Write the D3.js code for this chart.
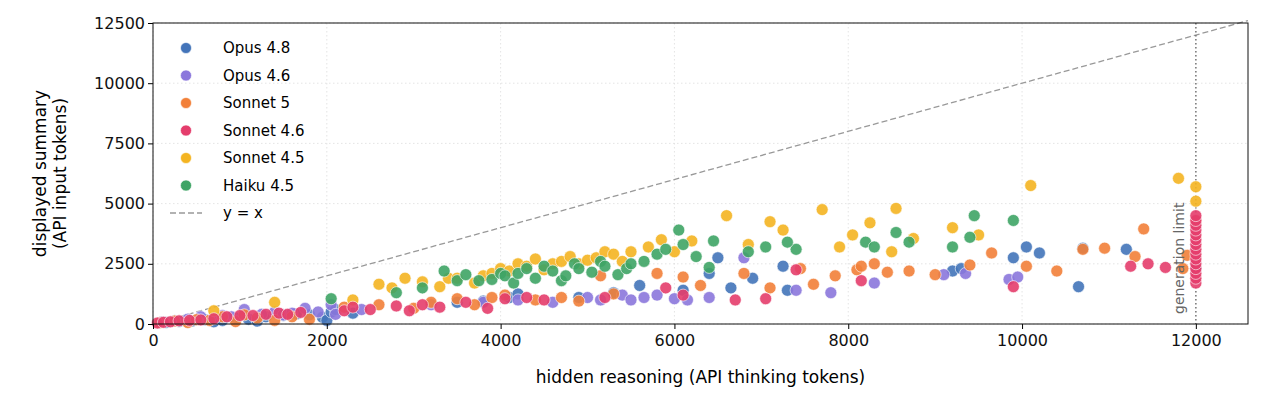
<!DOCTYPE html>
<html><head><meta charset="utf-8">
<script src="https://cdn.jsdelivr.net/npm/d3@7"></script>
<style>body{margin:0;background:#fff}text{font-family:"DejaVu Sans",sans-serif}</style>
</head><body><svg id="c" width="1265" height="403"></svg>
<script>
const seriesNames = ["Opus 4.8","Opus 4.6","Sonnet 5","Sonnet 4.6","Sonnet 4.5","Haiku 4.5"];
const seriesColors = ["#4374b9","#8b77dc","#f28039","#e43d6c","#f4b421","#3ea465"];
const xTicks = [0,2000,4000,6000,8000,10000,12000];
const yTicks = [0,2500,5000,7500,10000,12500];

const opus48 = [[150,60],[300,100],[450,120],[600,180],[700,90],[800,150],[950,250],[1100,200],[1200,120],[1300,300],[1500,350],[1650,420],[1800,380],[1950,280],[2000,150],[2050,500],[2100,600],[2300,450],[3500,900],[3800,950],[4100,1100],[4200,1250],[4900,1100],[5300,1300],[5600,1600],[6100,1400],[6400,2100],[6500,2750],[6650,1500],[6900,1900],[7250,2400],[7300,1400],[9200,2200],[9300,2300],[9900,2750],[10050,3200],[10200,2950],[10650,1550],[10700,3150],[11200,3100],[12000,2300]];
const opus46 = [[100,80],[250,130],[400,200],[550,300],[700,250],[800,350],[900,300],[1050,600],[1250,400],[1400,500],[1500,380],[1600,450],[1750,650],[1900,500],[2050,800],[2100,400],[2400,600],[3200,800],[3800,900],[4200,1000],[4600,900],[5000,1100],[5150,1000],[5400,1200],[5500,1000],[5650,1100],[5800,1200],[6000,1050],[6150,1000],[6400,1100],[6800,2750],[7400,1400],[7800,1300],[8300,1700],[9100,2050],[9350,2100],[9850,1850],[9950,1950]];
const sonnet5 = [[80,50],[250,120],[400,60],[500,180],[650,150],[800,300],[950,100],[1050,380],[1200,250],[1400,150],[1600,300],[1800,200],[2200,700],[2600,800],[3000,650],[3200,900],[3500,1050],[3700,800],[3900,1100],[4050,1200],[4400,1000],[4700,1100],[4900,950],[5150,2000],[5300,1250],[5800,2100],[6100,1950],[6300,1600],[6800,2100],[7100,1500],[7450,2300],[7600,1650],[7850,2000],[8100,2250],[8150,2400],[8300,2500],[8450,2150],[8700,2200],[9000,2050],[9400,2450],[9650,2950],[10050,2400],[10400,2200],[10700,3100],[10950,3150],[11300,2800],[11400,3950],[11850,2300],[11900,2850],[12000,4250]];
const sonnet46 = [[50,40],[120,70],[200,90],[300,130],[420,150],[550,170],[700,220],[850,300],[1000,350],[1150,350],[1300,400],[1450,450],[1550,400],[1700,480],[2200,550],[2300,700],[2500,600],[2800,750],[2950,550],[3100,800],[3300,700],[3600,900],[3850,650],[4050,1050],[4300,1100],[4500,1000],[5200,1100],[5900,1500],[6100,1200],[6700,1000],[7050,1050],[7400,2250],[8150,1800],[9900,1550],[11250,2400],[11450,2500],[11650,2350],[12000,1700],[12000,1900],[12000,2100],[12000,2300],[12000,2500],[12000,2700],[12000,2900],[12000,3100],[12000,3300],[12000,3500],[12000,3700],[12000,3900],[12000,4100],[12000,4300],[12000,4500]];
const sonnet45 = [[700,550],[1400,900],[2300,1000],[2600,1650],[2750,1500],[2900,1900],[3100,1750],[3300,1550],[3400,1900],[3500,1900],[3700,1700],[3800,2000],[3900,2100],[4000,2300],[4100,2200],[4200,2500],[4300,2400],[4400,2700],[4500,2250],[4600,2500],[4700,2600],[4800,2800],[4900,2500],[5000,2650],[5100,2750],[5200,3000],[5300,2900],[5400,2600],[5500,3000],[5700,3200],[5850,3500],[6000,3000],[6200,3450],[6600,4500],[6850,3300],[7100,4250],[7250,3900],[7700,4750],[7900,3200],[8050,3700],[8250,4200],[8500,3000],[8550,4800],[8750,3550],[9200,4000],[9500,3700],[10100,5750],[11800,6050],[12000,5700],[12000,5100]];
const haiku45 = [[2050,1050],[2800,1300],[3100,1500],[3350,2200],[3500,1800],[3600,2050],[3750,1800],[3900,1850],[4000,2100],[4050,2000],[4150,1700],[4200,2100],[4300,2300],[4400,1900],[4500,2400],[4600,2200],[4700,1800],[4750,2000],[4850,2500],[4900,2300],[5050,2150],[5150,2600],[5200,2400],[5350,2050],[5450,2300],[5500,2500],[5650,2600],[5800,2900],[5900,3100],[6050,3900],[6100,3300],[6250,2800],[6400,2350],[6450,3450],[6850,3000],[7050,3200],[7400,3100],[7300,3400],[8200,3400],[8300,3200],[8550,3800],[8700,3400],[9200,3200],[9400,3600],[9450,4500],[9900,4300]];
const allSeries = [opus48,opus46,sonnet5,sonnet46,sonnet45,haiku45];
const drawOrder = [0,1,2,4,5,3];

const svg = d3.select("#c");
const m = {l:153,r:1248,t:23,b:324};
const x = d3.scaleLinear().domain([0,12600]).range([m.l,m.r]);
const y = d3.scaleLinear().domain([0,12500]).range([m.b,m.t]);

const grid = svg.append("g");
grid.selectAll(".gx").data(xTicks).join("line").attr("x1",d=>x(d)).attr("x2",d=>x(d)).attr("y1",m.t).attr("y2",m.b)
  .attr("stroke","#ddd").attr("stroke-dasharray","1.5,2.5").attr("stroke-width",0.8);
grid.selectAll(".gy").data(yTicks).join("line").attr("y1",d=>y(d)).attr("y2",d=>y(d)).attr("x1",m.l).attr("x2",m.r)
  .attr("stroke","#ddd").attr("stroke-dasharray","1.5,2.5").attr("stroke-width",0.8);

svg.append("line").attr("x1",x(0)).attr("y1",y(0)).attr("x2",x(12600)).attr("y2",y(12600))
  .attr("stroke","#999").attr("stroke-dasharray","6,3").attr("stroke-width",1.3);
svg.append("line").attr("x1",x(12000)).attr("x2",x(12000)).attr("y1",m.t).attr("y2",m.b)
  .attr("stroke","#777").attr("stroke-dasharray","1.5,2.5").attr("stroke-width",1.5);

drawOrder.forEach(i=>{
  svg.append("g").selectAll("circle").data(allSeries[i]).join("circle")
    .attr("cx",d=>x(d[0])).attr("cy",d=>y(d[1])).attr("r",6)
    .attr("fill",seriesColors[i]).attr("fill-opacity",0.9).attr("stroke","#fff").attr("stroke-width",0.6);
});
svg.append("text").attr("transform",`translate(${x(12000)-12},${y(0)-10}) rotate(-90)`)
  .attr("font-size",14).attr("fill","#666").text("generation limit");

svg.append("g").attr("transform",`translate(0,${m.b})`).call(d3.axisBottom(x).tickValues(xTicks).tickSize(5).tickFormat(d3.format("d")))
  .call(g=>g.selectAll("text").attr("font-size",16).attr("dy","0.9em").attr("fill","#111")).call(g=>g.select(".domain").remove());
svg.append("g").attr("transform",`translate(${m.l},0)`).call(d3.axisLeft(y).tickValues(yTicks).tickSize(5).tickFormat(d3.format("d")))
  .call(g=>g.selectAll("text").attr("font-size",16).attr("fill","#111")).call(g=>g.select(".domain").remove());
svg.append("rect").attr("x",m.l).attr("y",m.t).attr("width",m.r-m.l).attr("height",m.b-m.t).attr("fill","none").attr("stroke","#111").attr("stroke-width",1);

svg.append("text").attr("x",(m.l+m.r)/2).attr("y",383).attr("text-anchor","middle").attr("font-size",17).text("hidden reasoning (API thinking tokens)");
svg.append("text").attr("transform",`translate(46,${(m.t+m.b)/2}) rotate(-90)`).attr("text-anchor","middle").attr("font-size",17)
  .selectAll("tspan").data(["displayed summary","(API input tokens)"]).join("tspan").attr("x",0).attr("dy",(d,i)=>i?"1.2em":"0").text(d=>d);

const lg = svg.append("g").attr("transform","translate(170,48)");
seriesNames.forEach((n,i)=>{
  lg.append("circle").attr("cx",16).attr("cy",i*27.5).attr("r",5.5).attr("fill",seriesColors[i]).attr("stroke","#fff").attr("stroke-width",0.6);
  lg.append("text").attr("x",53).attr("y",i*27.5+5).attr("font-size",15).text(n);
});
lg.append("line").attr("x1",0).attr("x2",32).attr("y1",6*27.5).attr("y2",6*27.5).attr("stroke","#999").attr("stroke-dasharray","6,3").attr("stroke-width",1.3);
lg.append("text").attr("x",53).attr("y",6*27.5+5).attr("font-size",15).text("y = x");
</script></body></html>
